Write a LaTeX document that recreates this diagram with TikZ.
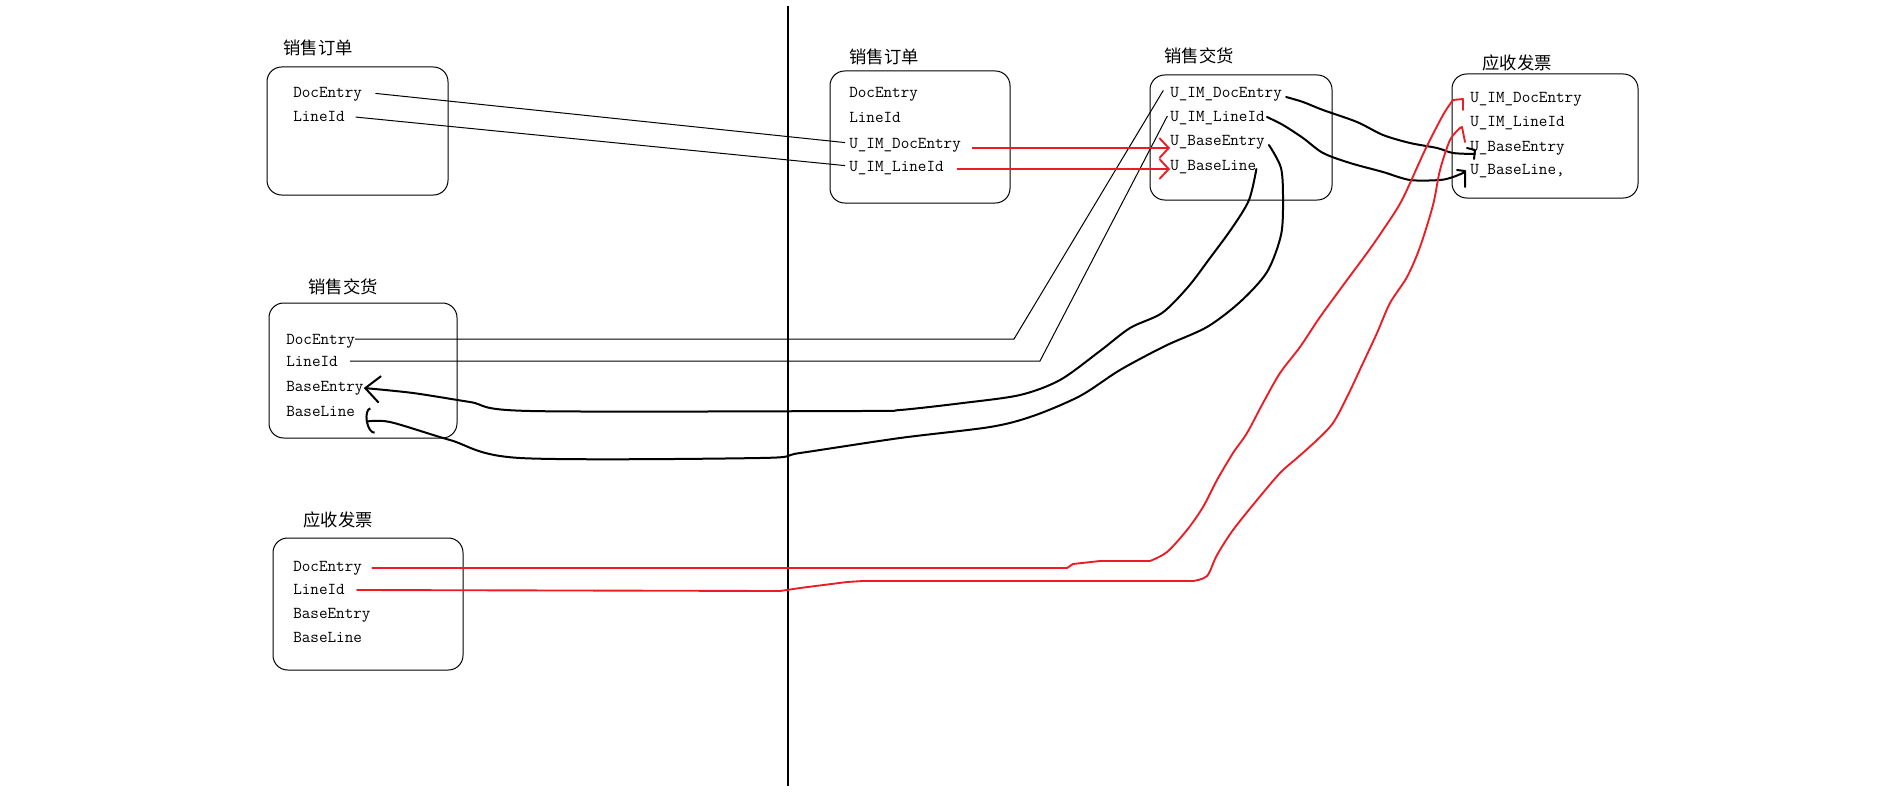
\documentclass[tikz,border=0pt]{standalone}
\usepackage{fontspec}
\usepackage{tikz}
\usetikzlibrary{arrows.meta}
\newfontfamily\cjk{Noto Sans CJK SC}
\definecolor{paintred}{HTML}{ED1C24}

\begin{document}
\begin{tikzpicture}[x=0.75pt,y=-0.75pt,
    tbl/.style={draw,line width=0.75pt,rounded corners=11pt},
    title/.style={font=\cjk\fontsize{13}{15}\selectfont,inner sep=0pt},
    fld/.style={anchor=west,font=\ttfamily\fontsize{12.5}{14}\selectfont,inner sep=0pt,text height=8.5pt,text depth=1pt},
    link/.style={line width=0.75pt},
    redlink/.style={paintred,line width=0.85pt},
    pen/.style={line width=1.5pt,line cap=round,line join=round},
    redpen/.style={paintred,line width=1.4pt,line cap=round,line join=round}]
    \useasboundingbox (0,0) rectangle (1897,799);
    % left side
    \node[title] (soL) at (318,48) {销售订单};
    \draw[tbl] (267,67) rectangle (448,195);
    \node[fld] (soL-de) at (293,92) {DocEntry};
    \node[fld] (soL-li) at (293,116) {LineId};
    \node[title] (dnL) at (343,287) {销售交货};
    \draw[tbl] (269,303) rectangle (457,438);
    \node[fld] (dnL-de) at (286,339) {DocEntry};
    \node[fld] (dnL-li) at (286,361) {LineId};
    \node[fld] (dnL-be) at (286,386) {BaseEntry};
    \node[fld] (dnL-bl) at (286,411) {BaseLine};
    \node[title] (ivL) at (338,520) {应收发票};
    \draw[tbl] (273,538) rectangle (463,670);
    \node[fld] (ivL-de) at (293,566) {DocEntry};
    \node[fld] (ivL-li) at (293,589) {LineId};
    \node[fld] (ivL-be) at (293,613) {BaseEntry};
    \node[fld] (ivL-bl) at (293,637) {BaseLine};
    \draw[line width=1.5pt] (788,6) -- (788,786);
    % right side
    \node[title] (soR) at (884,57) {销售订单};
    \draw[tbl] (830,71) rectangle (1010,203);
    \node[fld] (soR-de) at (849,93) {DocEntry};
    \node[fld] (soR-li) at (849,117) {LineId};
    \node[fld] (soR-imde) at (849,143) {U\_IM\_DocEntry};
    \node[fld] (soR-imli) at (849,166) {U\_IM\_LineId};
    \node[title] (dnR) at (1199,56) {销售交货};
    \draw[tbl] (1150,75) rectangle (1332,200);
    \node[fld] (dnR-imde) at (1170,93) {U\_IM\_DocEntry};
    \node[fld] (dnR-imli) at (1170,116) {U\_IM\_LineId};
    \node[fld] (dnR-be) at (1170,140) {U\_BaseEntry};
    \node[fld] (dnR-bl) at (1170,165) {U\_BaseLine};
    \node[title] (ivR) at (1517,63) {应收发票};
    \draw[tbl] (1452,74) rectangle (1638,198);
    \node[fld] (ivR-imde) at (1470,97) {U\_IM\_DocEntry};
    \node[fld] (ivR-imli) at (1470,121) {U\_IM\_LineId};
    \node[fld] (ivR-be) at (1470,146) {U\_BaseEntry};
    \node[fld] (ivR-bl) at (1470,169) {U\_BaseLine,};
    % thin links
    \draw[link,shorten <=10pt,shorten >=3pt] (soL-de.east) -- (soR-imde.west);
    \draw[link,shorten <=8pt,shorten >=3pt] (soL-li.east) -- (soR-imli.west);
    \draw[link] (dnL-de.east) -- (1014,339) -- ([xshift=-5pt,yshift=2pt]dnR-imde.west);
    \draw[link] ([xshift=9pt]dnL-li.east) -- (1040,361) -- ([xshift=-2pt]dnR-imli.west);
    \draw[redlink,-{Straight Barb[length=7pt,width=15pt,line width=1.4pt]}]
      ([xshift=8pt,yshift=-3.75pt]soR-imde.east) -- ([yshift=-6pt]dnR-be.west);
    \draw[redlink,-{Straight Barb[length=7pt,width=15pt,line width=1.4pt]}]
      ([xshift=10pt,yshift=-2.25pt]soR-imli.east) -- ([yshift=-3pt]dnR-bl.west);
    % pen strokes
    \draw[pen,-{Straight Barb[length=11pt,width=20pt]}]
      plot[smooth] coordinates {([yshift=-3pt]dnR-bl.east) (1249,200) (1232,228) (1210,258) (1188,287)
        (1162,313) (1130,328) (1100,351) (1060,380) (1020,395) (963,403) (900,410) (860,411)
        (530,411) (470,402) (413,393) ([yshift=-1.5pt]dnL-be.east)};
    \draw[pen,-{Arc Barb[length=5pt,width=20pt]}]
      plot[smooth] coordinates {([xshift=3pt,yshift=-3.75pt]dnR-be.east) (1281,168) (1283,200) (1281,235)
        (1267,272) (1240,302) (1207,327) (1165,346) (1120,370) (1080,396) (1033,416) (990,427)
        (900,438) (800,453) (760,458) (520,458) (450,440) (390,422) ([xshift=8pt,yshift=-8pt]dnL-bl.east)};
    \draw[pen]
      plot[smooth] coordinates {([xshift=3pt,yshift=-3pt]dnR-imde.east) (1303,102) (1323,110) (1357,122)
        (1383,135) (1410,143) (1437,148) (1453,153) ([xshift=3.75pt,yshift=-6pt]ivR-be.west)}
      ++(-1,5) -- ++(1,-9) -- ++(-8,-2);
    \draw[pen]
      plot[smooth] coordinates {([xshift=1.5pt,yshift=-0.75pt]dnR-imli.east) (1283,125) (1303,138) (1323,153)
        (1350,163) (1383,172) (1410,180) (1440,180) (1453,177) ([xshift=-5.25pt,yshift=-3pt]ivR-bl.west)}
      -- ++(2,-2) -- ++(0,16) ++(0,-16) -- ++(-8,-1);
    \draw[redpen] ([xshift=7.5pt,yshift=-1.5pt]ivL-de.east) -- (1067,568) -- (1073,564) -- (1100,561) -- (1150,561)
      -- plot[smooth] coordinates {(1150,561) (1167,552) (1187,530) (1203,507) (1217,480) (1233,453)
        (1247,433) (1263,403) (1280,373) (1300,347) (1320,317) (1347,280) (1367,253) (1383,230)
        (1402,200) (1425,150) (1443,115) ([xshift=-12.75pt,yshift=-2.25pt]ivR-imde.west)}
      -- ++(10,-1) -- ++(0,11);
    \draw[redpen] ([xshift=9pt,yshift=-0.75pt]ivL-li.east) -- (780,591) -- (800,588) -- (847,582) -- (863,581) -- (1193,581)
      -- plot[smooth] coordinates {(1193,581) (1207,576) (1217,555) (1233,530) (1257,500) (1280,473)
        (1297,458) (1317,440) (1333,423) (1347,397) (1363,363) (1377,333) (1390,303) (1407,277)
        (1420,247) (1433,205) (1440,170) (1450,140) ([xshift=-7.5pt,yshift=-5.25pt]ivR-imli.west)}
      -- ++(2,-1) -- ++(3,15);
  \end{tikzpicture}
\end{document}
